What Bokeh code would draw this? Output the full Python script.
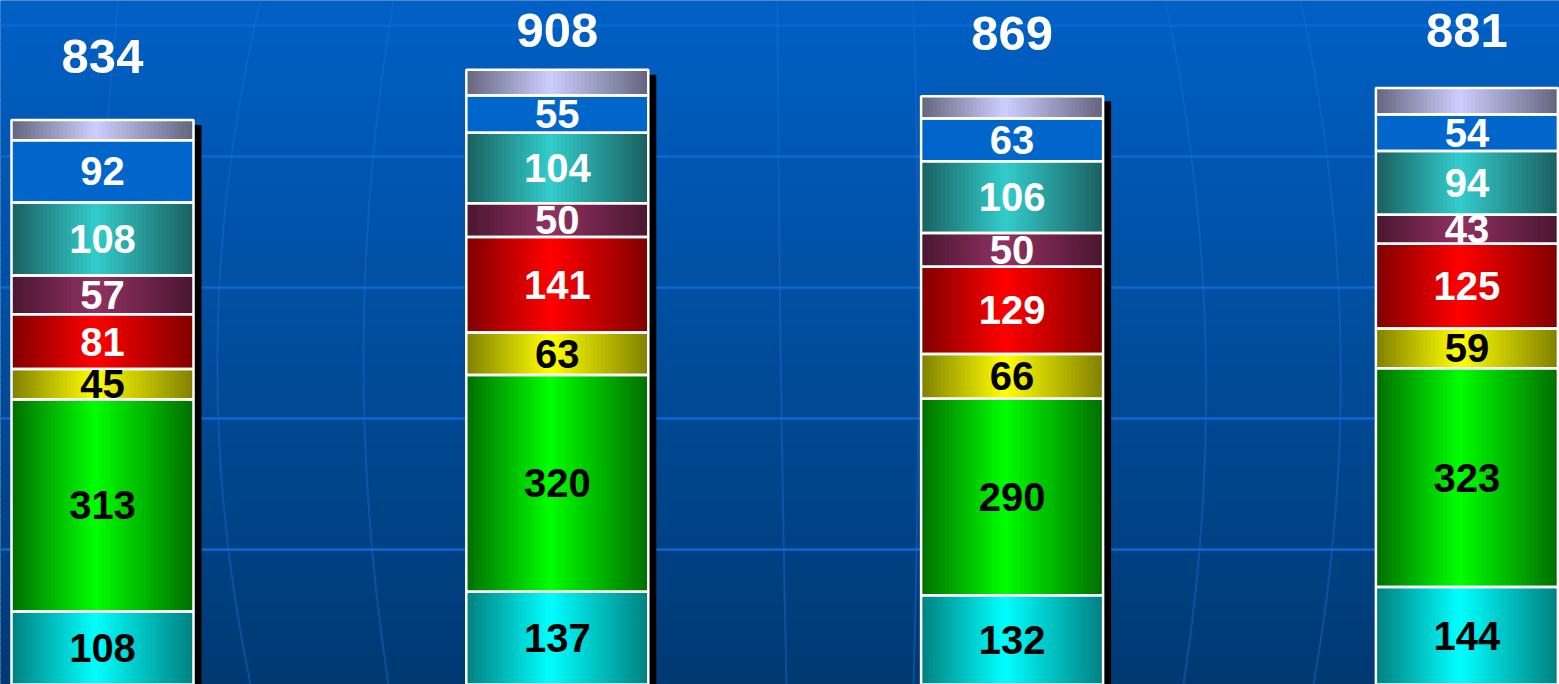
import numpy as np
from bokeh.plotting import figure
from bokeh.models import Range1d
from bokeh.embed import file_html
from bokeh.resources import INLINE
from bokeh.core.properties import value

# ---------------- data (bottom segment first) ----------------
groups = [0, 1, 2, 3]
totals = [834, 908, 869, 881]
cyan_vals = [108, 137, 132, 144]
green_vals = [313, 320, 290, 323]
yellow_vals = [45, 63, 66, 59]
red_vals = [81, 141, 129, 125]
plum_vals = [57, 50, 50, 43]
teal_vals = [108, 104, 106, 94]
blue_vals = [92, 55, 63, 54]
labelled = [cyan_vals, green_vals, yellow_vals, red_vals, plum_vals, teal_vals, blue_vals]
rest_vals = [t - sum(s[i] for s in labelled) for i, t in enumerate(totals)]
series = labelled + [rest_vals]

# ---------------- styles ----------------
# (peak colour, edge colour, label colour, show label)
styles = [
    ((0, 255, 255), (0, 128, 128), "black", True),
    ((0, 255, 0), (0, 110, 0), "black", True),
    ((255, 255, 0), (128, 128, 0), "black", True),
    ((255, 0, 0), (128, 0, 0), "white", True),
    ((145, 50, 98), (74, 22, 48), "white", True),
    ((51, 204, 204), (26, 95, 95), "white", True),
    ((0, 102, 204), (0, 102, 204), "white", True),
    ((206, 206, 255), (100, 100, 126), "white", False),
]

W, H = 1559, 684
PX = 454.8        # pixels per x unit
PY = 0.677        # pixels per y unit
X0PX = 102        # pixel of first bar centre
ZPY = 684         # pixel of y = 0
x_start = (0 - X0PX) / PX
x_end = x_start + W / PX
y_end = ZPY / PY
y_start = y_end - H / PY


def xd(px):
    return (px - X0PX) / PX


def yd(py):
    return (ZPY - py) / PY


p = figure(width=W, height=H, output_backend="svg", toolbar_location=None,
           x_range=Range1d(x_start, x_end), y_range=Range1d(y_start, y_end),
           min_border=0, outline_line_color=None)
p.axis.visible = False
p.grid.visible = False
p.background_fill_color = "#004c9c"
p.border_fill_color = "#004c9c"

# background vertical gradient
nb = 120
top_c = np.array([0, 96, 198])
bot_c = np.array([0, 57, 114])
edges = np.linspace(y_end, y_start, nb + 1)
bcols = []
for k in range(nb):
    t = (k + 0.5) / nb
    c = top_c + (bot_c - top_c) * t
    bcols.append("#%02x%02x%02x" % tuple(int(round(v)) for v in c))
p.quad(left=x_start - 1, right=x_end + 1, top=edges[:-1] + 0.5, bottom=edges[1:] - 0.5,
       fill_color=bcols, line_color=None)

# globe lines (decoration)
p.hspan(y=[yd(v) for v in [25, 156, 287, 418, 549]], line_color="#0a68d0", line_width=2.5)
mer = [(260, 217, 250), (393, 363, 388), (777, 780, 786), (913, 918, 913),
       (1165, 1205, 1183), (1300, 1340, 1313), (118, 98, 112)]
p.quadratic(x0=[xd(m[0]) for m in mer], y0=[yd(0)] * len(mer),
            x1=[xd(m[2]) for m in mer], y1=[yd(684)] * len(mer),
            cx=[xd(2 * m[1] - 0.5 * (m[0] + m[2])) for m in mer], cy=[yd(342)] * len(mer),
            line_color="#1a6ad0", line_alpha=0.45, line_width=2)

bw = 182 / PX
xs = np.array(groups, dtype=float)

# shadows
p.quad(left=xs - bw / 2 + 8 / PX, right=xs + bw / 2 + 8 / PX,
       top=np.array(totals) - 5 / PY, bottom=y_start - 50,
       fill_color="black", line_color=None)

# gradient segments
ns = 46
cpk = 0.46
L, R, T, B, C = [], [], [], [], []
OL, OR, OT, OB = [], [], [], []
TX, TY, TT, TC = [], [], [], []
for i, g in enumerate(groups):
    base = 0.0
    for s, (pk, ed, tcol, show) in zip(series, styles):
        v = s[i]
        bot, top = base, base + v
        base = top
        left0 = g - bw / 2
        dw = bw / ns
        for k in range(ns):
            t = (k + 0.5) / ns
            f = 1 - abs(t - cpk) / (cpk if t < cpk else 1 - cpk)
            col = tuple(int(round(e + (q - e) * f)) for q, e in zip(pk, ed))
            L.append(left0 + k * dw)
            R.append(left0 + min((k + 1.7) * dw, bw))
            T.append(top)
            B.append(bot)
            C.append("#%02x%02x%02x" % col)
        OL.append(left0); OR.append(g + bw / 2); OT.append(top); OB.append(bot)
        if show:
            TX.append(g); TY.append((bot + top) / 2); TT.append(str(v)); TC.append(tcol)

p.quad(left=L, right=R, top=T, bottom=B, fill_color=C, line_color=None)
p.quad(left=OL, right=OR, top=OT, bottom=OB, fill_color=None,
       line_color="white", line_width=2.5)

p.text(x=TX, y=TY, text=TT, text_color=TC, text_font=value("Liberation Sans"),
       text_font_style="bold", text_font_size="40px", text_align="center",
       text_baseline="middle")

# totals above bars
ty = np.minimum(np.array(totals) + 63 / PY, yd(30))
p.text(x=xs, y=ty, text=[str(t) for t in totals], text_color="white",
       text_font=value("Liberation Sans"), text_font_style="bold",
       text_font_size="49px", text_align="center", text_baseline="middle")

open("out.html", "w").write(file_html(p, INLINE))
